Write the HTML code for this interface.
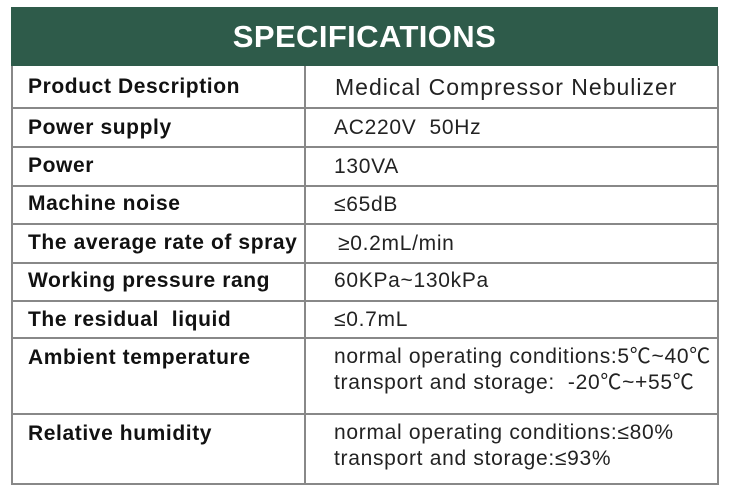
<!DOCTYPE html>
<html><head><style>
body{margin:0;width:730px;height:500px;background:#fff;position:relative;overflow:hidden;font-family:"Liberation Sans","Noto Sans CJK SC",sans-serif}
.hd{position:absolute;left:11px;top:7px;width:707px;height:59px;background:#2e5b4a;color:#fff;font-weight:bold;font-size:31px;text-align:center;line-height:59px;letter-spacing:0.4px}
.h{position:absolute;left:11px;width:707px;height:2px;background:#888}
.v{position:absolute;width:2px;background:#888;top:66px;height:419px}
.l{position:absolute;left:28px;font-weight:bold;font-size:21px;letter-spacing:0.6px;color:#111;line-height:22px}
.r{position:absolute;left:334px;font-size:21px;letter-spacing:0.7px;color:#222;line-height:26px}
</style></head><body>
<div class="hd">SPECIFICATIONS</div>
<div class="h" style="top:107px"></div>
<div class="h" style="top:146px"></div>
<div class="h" style="top:185px"></div>
<div class="h" style="top:223px"></div>
<div class="h" style="top:262px"></div>
<div class="h" style="top:300px"></div>
<div class="h" style="top:337px"></div>
<div class="h" style="top:413px"></div>
<div class="h" style="top:483px"></div>
<div class="v" style="left:11px"></div>
<div class="v" style="left:304px"></div>
<div class="v" style="left:717px"></div>
<div class="l" style="top:76px">Product Description</div><div class="r" style="top:74px;font-size:23px;letter-spacing:1px;left:335px">Medical Compressor Nebulizer</div>
<div class="l" style="top:117px">Power supply</div><div class="r" style="top:115px">AC220V&nbsp; 50Hz</div>
<div class="l" style="top:155px">Power</div><div class="r" style="top:154px">130VA</div>
<div class="l" style="top:193px">Machine noise</div><div class="r" style="top:192px">≤65dB</div>
<div class="l" style="top:232px">The average rate of spray</div><div class="r" style="top:231px;left:338px">≥0.2mL/min</div>
<div class="l" style="top:270px">Working pressure rang</div><div class="r" style="top:268px">60KPa~130kPa</div>
<div class="l" style="top:309px">The residual&nbsp; liquid</div><div class="r" style="top:307px">≤0.7mL</div>
<div class="l" style="top:347px">Ambient temperature</div><div class="r" style="top:344px">normal operating conditions:5℃~40℃<br>transport and storage:&nbsp; -20℃~+55℃</div>
<div class="l" style="top:423px">Relative humidity</div><div class="r" style="top:420px">normal operating conditions:≤80%<br>transport and storage:≤93%</div>
</body></html>
